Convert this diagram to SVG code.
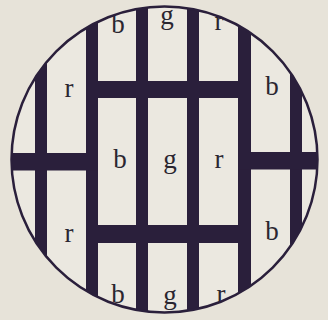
<svg xmlns="http://www.w3.org/2000/svg" width="328" height="320" viewBox="0 0 328 320">
<defs>
<clipPath id="disc"><circle cx="164.5" cy="159.5" r="153"/></clipPath>
<style>
.bar{fill:#2a1f3b}
.lbl{font-family:"Liberation Serif","DejaVu Serif",serif;font-size:27px;fill:#2a2630;text-anchor:middle}
</style>
</defs>
<rect width="328" height="320" fill="#e7e3d9"/>
<circle cx="164.5" cy="159.5" r="153" fill="#ebe8e0"/>
<g id="bars" clip-path="url(#disc)">
<rect class="bar" x="35" y="0" width="12" height="320"/>
<rect class="bar" x="86" y="0" width="12" height="320"/>
<rect class="bar" x="136" y="0" width="12" height="320"/>
<rect class="bar" x="187" y="0" width="12" height="320"/>
<rect class="bar" x="238" y="0" width="13" height="320"/>
<rect class="bar" x="290" y="0" width="12" height="320"/>
<rect class="bar" x="0" y="153" width="98" height="17.5"/>
<rect class="bar" x="86" y="81" width="165" height="17"/>
<rect class="bar" x="86" y="225" width="165" height="18"/>
<rect class="bar" x="238" y="152" width="90" height="17.5"/>
</g>
<g id="labels" clip-path="url(#disc)">
<text class="lbl" x="118" y="33">b</text>
<text class="lbl" x="167" y="24">g</text>
<text class="lbl" x="219" y="30">r</text>
<text class="lbl" x="69" y="97">r</text>
<text class="lbl" x="272" y="95">b</text>
<text class="lbl" x="120" y="168">b</text>
<text class="lbl" x="170" y="168">g</text>
<text class="lbl" x="219" y="168">r</text>
<text class="lbl" x="69" y="242">r</text>
<text class="lbl" x="272" y="240">b</text>
<text class="lbl" x="118" y="303">b</text>
<text class="lbl" x="170" y="304">g</text>
<text class="lbl" x="221" y="303">r</text>
</g>
<circle id="rim" cx="164.5" cy="159.5" r="153" fill="none" stroke="#2a1f3b" stroke-width="2.5"/>
</svg>
